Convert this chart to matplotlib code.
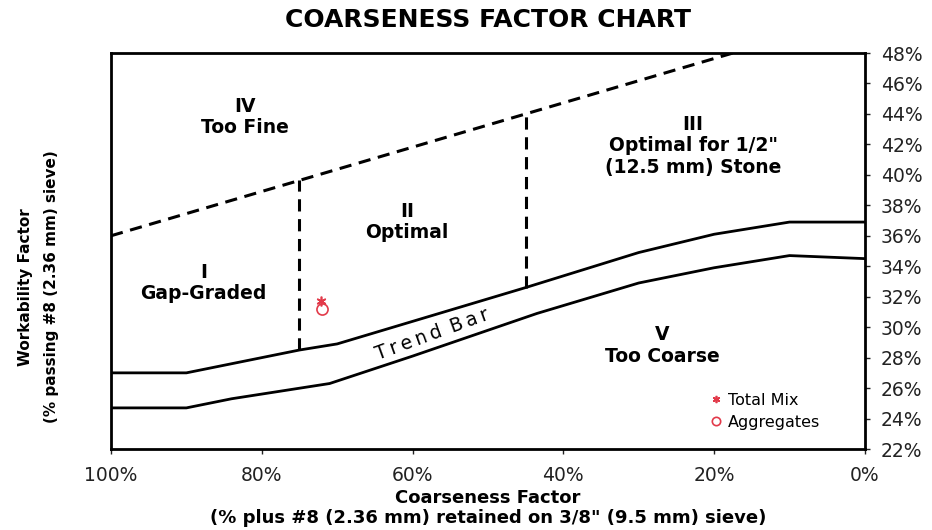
import matplotlib.pyplot as plt
import numpy as np

plt.rcParams['font.family'] = ['DejaVu Sans']

# trend bar edges (coarseness factor %, workability factor %)
upper_cf = [100, 90, 75, 70, 45, 30, 20, 10, 0]
upper_wf = [27.0, 27.0, 28.5, 28.9, 32.6, 34.9, 36.1, 36.9, 36.9]
lower_cf = [100, 90, 84, 71, 60, 43.5, 30, 20, 10, 0]
lower_wf = [24.7, 24.7, 25.3, 26.3, 28.1, 30.9, 32.9, 33.9, 34.7, 34.5]

# upper (dashed) boundary between zone IV and zones I/II/III
boundary_cf = [100, 17.5]
boundary_wf = [36.0, 48.0]

# vertical zone dividers
divider_cf = [75, 45]

# measured points
total_mix = (72.1, 31.7)
aggregates = (72.0, 31.2)

zone_labels = ['IV\nToo Fine', 'I\nGap-Graded', 'II\nOptimal',
               'III\nOptimal for 1/2"\n(12.5 mm) Stone', 'V\nToo Coarse']
zone_pos = [(82.2, 43.8), (87.7, 32.9), (60.7, 36.9), (22.8, 41.9), (26.9, 28.8)]

x_ticks = [100, 80, 60, 40, 20, 0]
y_ticks = np.arange(22, 49, 2)

if __name__ == '__main__':
    fig = plt.figure(figsize=(9.32, 5.30), dpi=100)
    ax = fig.add_axes([0.1191, 0.1528, 0.8089, 0.7472])

    ax.plot(upper_cf, upper_wf, color='black', lw=2)
    ax.plot(lower_cf, lower_wf, color='black', lw=2)

    # dashed boundary and dividers
    ax.plot(boundary_cf, boundary_wf, color='black', lw=2.2, ls=(0, (4, 2.5)))
    for cf in divider_cf:
        top = np.interp(cf, boundary_cf[::-1], boundary_wf[::-1])
        bot = np.interp(cf, upper_cf[::-1], upper_wf[::-1])
        ax.plot([cf, cf], [bot, top], color='black', lw=2.2, ls=(0, (4, 2.5)))

    for txt, (x, y) in zip(zone_labels, zone_pos):
        ax.text(x, y, txt, ha='center', va='center', fontsize=13.5,
                fontweight='bold', linespacing=1.15)

    thin = '\u2009'
    trend = thin.join('Trend') + ' ' + thin + thin.join('Bar')
    ax.text(57.4, 29.55, trend, ha='center', va='center',
            fontsize=13.5, rotation=20, rotation_mode='anchor')

    ax.plot(*total_mix, ls='none', marker=(6, 2, 0), ms=7, mew=1.2,
            color='#e23a4a', label='Total Mix')
    ax.plot(*aggregates, ls='none', marker='o', ms=8, mew=1.2,
            mfc='none', mec='#e23a4a', label='Aggregates')
    ax.legend(loc='lower right', bbox_to_anchor=(0.955, 0.02), frameon=False,
              fontsize=11.5, handlelength=0.6, handletextpad=0.45,
              labelspacing=0.45, borderpad=0.2, markerscale=0.75)

    ax.set_xlim(100, 0)
    ax.set_ylim(22, 48)
    ax.set_xticks(x_ticks)
    ax.set_xticklabels(['%d%%' % v for v in x_ticks])
    ax.set_yticks(y_ticks)
    ax.set_yticklabels(['%d%%' % v for v in y_ticks])
    ax.yaxis.tick_right()
    ax.tick_params(labelsize=13.5, colors='#222222', length=3.5, width=1)
    ax.tick_params(axis='x', pad=9)
    ax.tick_params(axis='y', pad=8)
    for s in ax.spines.values():
        s.set_linewidth(2)

    ax.set_xlabel('Coarseness Factor\n(% plus #8 (2.36 mm) retained on 3/8" (9.5 mm) sieve)',
                  fontsize=13, fontweight='bold', linespacing=1.2, va='top')
    ax.xaxis.set_label_coords(0.5, -0.1)
    ax.set_ylabel('Workability Factor\n(% passing #8 (2.36 mm) sieve)',
                  fontsize=11, fontweight='bold', linespacing=1.9)
    ax.yaxis.set_label_position('left')
    ax.yaxis.set_label_coords(-0.069, 0.41)
    ax.set_title('COARSENESS FACTOR CHART', fontsize=18, fontweight='bold', pad=19)

    fig.savefig('out.png', dpi=100)
